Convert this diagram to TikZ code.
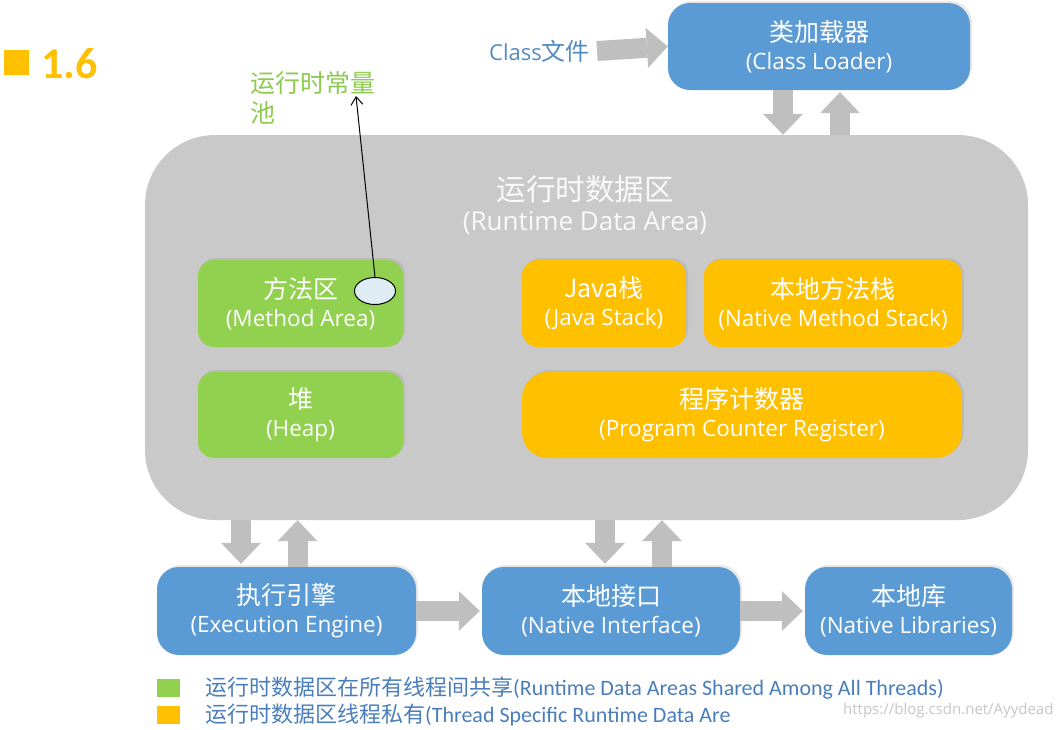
\documentclass[tikz,border=0pt]{standalone}
\usepackage{fontspec}
\setmainfont{Open Sans}
\newfontfamily\cjk{Noto Sans CJK SC}
\newfontfamily\calib{Carlito}
\usetikzlibrary{arrows.meta,calc,shadows,shapes.geometric}
\definecolor{bblue}{HTML}{5B9BD5}
\definecolor{ggreen}{HTML}{92D050}
\definecolor{oorange}{HTML}{FFC000}
\definecolor{areagray}{HTML}{C9C9C9}
\definecolor{arrgray}{HTML}{BFBFBF}
\definecolor{legblue}{HTML}{4A7EBB}
\definecolor{lblgreen}{HTML}{8CCB4F}
\newcommand{\bx}[2]{{\cjk\fontsize{25}{28}\selectfont #1}\\#2}
\tikzset{
  box/.style={rounded corners=16pt, text=white, align=center, inner sep=0pt,
    font=\fontsize{22.5}{28}\selectfont,
    drop shadow={opacity=0.18, shadow xshift=2pt, shadow yshift=2pt}},
  gbox/.style={box, fill=ggreen},
  obox/.style={box, fill=oorange},
  bbox/.style={box, fill=bblue, rounded corners=22pt},
  barrow/.style={draw=arrgray, line width=20pt,
    -{Triangle[length=21pt,width=40pt,line width=0pt]}},
  legsq/.style={fill=#1, minimum width=23pt, minimum height=18pt, inner sep=0pt},
  legtxt/.style={text=legblue, anchor=west, inner sep=0pt, font=\calib\fontsize{22}{24}\selectfont}
}
\begin{document}
\begin{tikzpicture}[x=1pt,y=-1pt]
\useasboundingbox (0,0) rectangle (1059,729);
% header
\node[fill=oorange, minimum width=25pt, minimum height=25pt, inner sep=0pt] (sq) at (16.5,62.5) {};
\node[anchor=base west, inner sep=0pt, text=oorange, font=\calib\bfseries\fontsize{44}{48}\selectfont] (num) at (41,78) {1.6};
% runtime data area
\node[fill=areagray, rounded corners=70pt, minimum width=883pt, minimum height=385pt, inner sep=0pt] (rda) at (586.5,327.5) {};
\node[text=white!95!gray, align=center, inner sep=0pt, font=\fontsize{26}{30}\selectfont] (rdat) at (585,205)
  {{\cjk\fontsize{29.5}{30}\selectfont 运行时数据区}\\(Runtime Data Area)};
% inner boxes
\node[gbox, minimum width=205pt, minimum height=87pt] (ma) at (300.5,303.5) {\bx{方法区}{(Method Area)}};
\node[gbox, minimum width=205pt, minimum height=86pt] (heap) at (300.5,415) {\bx{堆}{(Heap)}};
\node[obox, minimum width=164pt, minimum height=87pt] (js) at (604,303.5) {\bx{Java栈}{(Java Stack)}};
\node[obox, minimum width=258pt, minimum height=87pt] (nms) at (833,303.5) {\bx{本地方法栈}{(Native Method Stack)}};
\node[obox, rounded corners=26pt, minimum width=440pt, minimum height=86pt] (pc) at (742,415) {\bx{程序计数器}{(Program Counter Register)}};
% blue boxes
\node[bbox, minimum width=302pt, minimum height=87pt] (cl) at (819,46.5) {\bx{类加载器}{(Class Loader)}};
\node[bbox, minimum width=259pt, minimum height=88pt] (ee) at (286.5,611) {\bx{执行引擎}{(Execution Engine)}};
\node[bbox, minimum width=258pt, minimum height=88pt] (ni) at (611,611) {\bx{本地接口}{(Native Interface)}};
\node[bbox, minimum width=207pt, minimum height=88pt] (nl) at (908.5,611) {\bx{本地库}{(Native Libraries)}};
% class file
\node[anchor=east, inner sep=0pt, text=bblue!90!black, font=\fontsize{22}{24}\selectfont] (cf) at (590,51)
  {Class{\cjk\fontsize{24}{24}\selectfont 文件}};
% block arrows
\draw[barrow] ($(cf.east)+(7,0)$) -- (cl.west);
\draw[barrow] (cl.south -| 783,0) -- (rda.north -| 783,0);
\draw[barrow] (rda.north -| 840,0) -- ($(cl.south -| 840,0)+(0,2)$);
\draw[barrow] (rda.south -| 241,0) -- ($(ee.north -| 241,0)+(0,-3)$);
\draw[barrow] (ee.north -| 297.5,0) -- (rda.south -| 297.5,0);
\draw[barrow] (rda.south -| 605,0) -- ($(ni.north -| 605,0)+(0,-3)$);
\draw[barrow] (ni.north -| 662,0) -- (rda.south -| 662,0);
\draw[barrow] (ee.east) -- ($(ni.west)+(-2,0)$);
\draw[barrow] (ni.east) -- ($(nl.west)+(-2,0)$);
% constant pool annotation
\node[anchor=north west, align=left, inner sep=0pt, text=lblgreen, font=\cjk\fontsize{25}{30}\selectfont] (cpl) at (250,71) {运行时常量\\池};
\coordinate (cpt) at (356,96);
\node[ellipse, draw=black, line width=1pt, fill=cyan!10!white!90!gray, minimum width=41pt, minimum height=27pt, inner sep=0pt] (pool) at (375,291) {};
\draw[line width=1pt, -{Straight Barb[length=8pt,width=12pt]}] (pool.north) -- (cpt);
% legend
\node[legsq=ggreen] (l1) at (168.5,688) {};
\node[legsq=oorange] (l2) at (168.5,715) {};
\node[legtxt] (t1) at (205,688) {{\cjk\fontsize{22}{24}\selectfont 运行时数据区在所有线程间共享}(Runtime Data Areas Shared Among All Threads)};
\node[legtxt] (t2) at (205,715) {{\cjk\fontsize{22}{24}\selectfont 运行时数据区线程私有}(Thread Specific Runtime Data Are};
\node[anchor=west, inner sep=0pt, text=gray!45, font=\fontsize{15}{18}\selectfont] (wm) at (843,711) {https://blog.csdn.net/Ayydead};
\end{tikzpicture}
\end{document}
